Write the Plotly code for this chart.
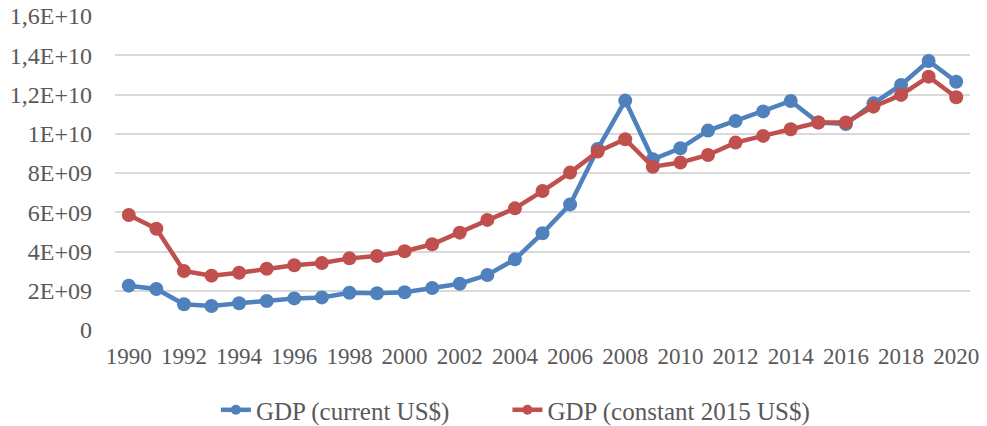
import plotly.graph_objects as go

years = [str(y) for y in range(1990, 2021)]
gdp_current = [2.26e9, 2.09e9, 1.31e9, 1.22e9, 1.36e9, 1.48e9, 1.61e9, 1.66e9, 1.90e9, 1.87e9,
               1.92e9, 2.14e9, 2.36e9, 2.80e9, 3.60e9, 4.93e9, 6.40e9, 9.22e9, 11.69e9, 8.70e9,
               9.26e9, 10.16e9, 10.65e9, 11.14e9, 11.67e9, 10.57e9, 10.50e9, 11.55e9, 12.49e9, 13.71e9,
               12.65e9]
gdp_constant = [5.86e9, 5.16e9, 3.01e9, 2.77e9, 2.92e9, 3.12e9, 3.30e9, 3.41e9, 3.65e9, 3.77e9,
                4.01e9, 4.37e9, 4.96e9, 5.61e9, 6.20e9, 7.08e9, 8.02e9, 9.09e9, 9.72e9, 8.32e9,
                8.53e9, 8.92e9, 9.55e9, 9.89e9, 10.23e9, 10.57e9, 10.57e9, 11.38e9, 11.98e9, 12.91e9,
                11.86e9]
series_names = ["GDP (current US$)", "GDP (constant 2015 US$)"]
series_colors = ["#4F81BD", "#C0504D"]
legend_ids = ["legend", "legend2"]
y_tickvals = [0, 2e9, 4e9, 6e9, 8e9, 1e10, 1.2e10, 1.4e10, 1.6e10]
y_ticktext = ["0", "2E+09", "4E+09", "6E+09", "8E+09", "1E+10", "1,2E+10", "1,4E+10", "1,6E+10"]
x_ticks = [str(y) for y in range(1990, 2021, 2)]

font_family = "Liberation Serif"
gray = "#595959"

fig = go.Figure()
for vals, name, col in zip([gdp_current, gdp_constant], series_names, series_colors):
    fig.add_trace(go.Scatter(x=years, y=vals, mode="lines+markers", name=name, showlegend=False,
                             line=dict(color=col, width=4.5),
                             marker=dict(color=col, size=14)))
# legend-only entries (smaller legend marker as in the reference)
for name, col, lg in zip(series_names, series_colors, legend_ids):
    fig.add_trace(go.Scatter(x=[None], y=[None], mode="lines+markers", name=name, legend=lg,
                             line=dict(color=col, width=4.5),
                             marker=dict(color=col, size=10)))

legend_style = dict(orientation="h", xanchor="left", y=-0.255, yanchor="middle",
                    font=dict(size=25, color=gray), bgcolor="rgba(0,0,0,0)")

fig.update_layout(
    width=987, height=426,
    margin=dict(l=115, r=17, t=16, b=96, autoexpand=False),
    paper_bgcolor="white", plot_bgcolor="white",
    font=dict(family=font_family, color=gray, size=23),
    showlegend=True,
    legend=dict(x=0.118, **legend_style),
    legend2=dict(x=0.459, **legend_style),
    xaxis=dict(type="category", range=[-0.5, 30.5], tickmode="array", tickvals=x_ticks,
               ticktext=x_ticks, showgrid=False, showline=False, ticks="", automargin=False,
               ticklabelstandoff=10, tickfont=dict(size=23, color=gray)),
    yaxis=dict(range=[0, 1.6e10], tickmode="array", tickvals=y_tickvals, ticktext=y_ticktext,
               showgrid=True, gridcolor="#d9d9d9", gridwidth=1.5, zeroline=False, automargin=False,
               showline=False, ticks="", ticklen=0, ticklabelstandoff=22,
               ticklabeloverflow="allow", tickfont=dict(size=24, color=gray)),
)

# remove the default 8px page margin so the figure sits at the window's top-left corner
fig.write_html("out.html", config={"displayModeBar": False},
               post_script="document.body.style.margin='0px';")
